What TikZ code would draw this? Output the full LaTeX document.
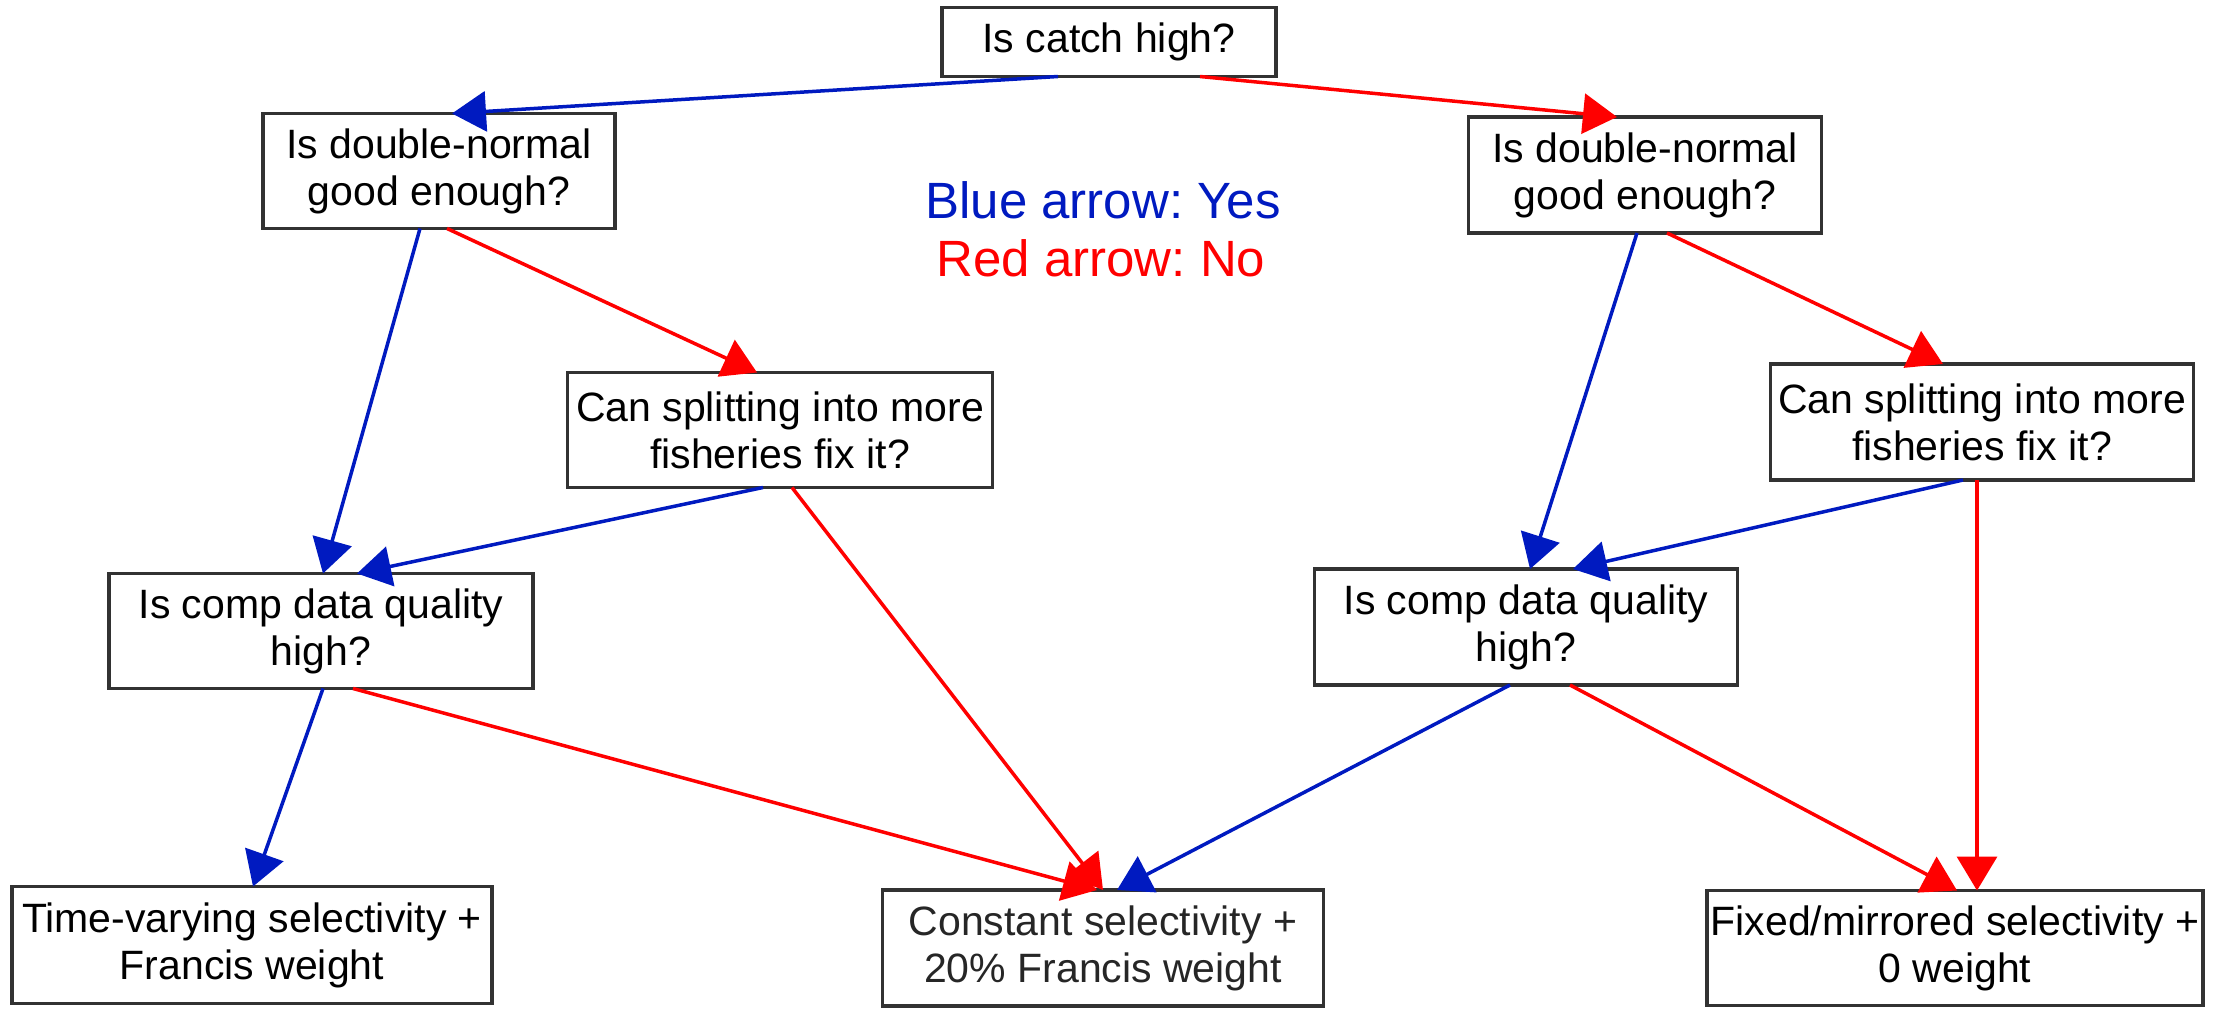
\documentclass[tikz,border=0pt]{standalone}
\usepackage{fontspec}
\setmainfont{Liberation Sans}
\usetikzlibrary{arrows.meta}
\definecolor{yesblue}{RGB}{0,26,192}
\definecolor{nored}{RGB}{255,0,0}
\definecolor{boxgray}{RGB}{50,50,50}
\tikzset{
  qbox/.style={draw=boxgray, line width=3.5pt, fill=white, align=center, inner sep=0pt, outer sep=0pt,
    font=\fontsize{41}{47}\selectfont\frenchspacing, text=black},
  yes/.style={draw=yesblue, line width=3.5pt, -{Triangle[length=34pt,width=40pt]}},
  no/.style={draw=nored, line width=3.5pt, -{Triangle[length=34pt,width=40pt]}},
  legend/.style={font=\fontsize{51}{58}\selectfont\frenchspacing, inner sep=0pt, anchor=base}
}
\begin{document}
\begin{tikzpicture}[x=1pt,y=-1pt]
\useasboundingbox (0,0) rectangle (2231,1009);
% nodes
\node[qbox, minimum width=334pt, minimum height=69pt] (catch) at (1109,42) {Is catch high?};
\node[qbox, minimum width=352pt, minimum height=115pt] (dnL) at (439,171) {Is double-normal\\good enough?};
\node[qbox, minimum width=353pt, minimum height=116pt] (dnR) at (1645,175) {Is double-normal\\good enough?};
\node[qbox, minimum width=425pt, minimum height=115pt] (spL) at (780,430) {Can splitting into more\\fisheries fix it?};
\node[qbox, minimum width=423pt, minimum height=116pt] (spR) at (1982,422) {Can splitting into more\\fisheries fix it?};
\node[qbox, minimum width=424pt, minimum height=115pt] (cqL) at (321,631) {Is comp data quality\\high?};
\node[qbox, minimum width=423pt, minimum height=116pt] (cqR) at (1526,627) {Is comp data quality\\high?};
\node[qbox, minimum width=480pt, minimum height=117pt] (tv) at (252,945) {Time-varying selectivity +\\Francis weight};
\node[qbox, minimum width=441pt, minimum height=116pt, text=black!85] (cst) at (1103,948) {Constant selectivity +\\20\% Francis weight};
\node[qbox, minimum width=496pt, minimum height=115pt] (fix) at (1955,948) {Fixed/mirrored selectivity +\\0 weight};
% legend
\node[legend, text=yesblue] (legY) at (1103,218) {Blue arrow: Yes};
\node[legend, text=nored] (legN) at (1101,276) {Red arrow: No};
% connectors
\draw[yes] ([xshift=-51pt]catch.south) -- ([xshift=13pt]dnL.north);
\draw[no]  ([xshift=91pt]catch.south) -- ([xshift=-28pt]dnR.north);
\draw[yes] ([xshift=-19pt]dnL.south) -- ([xshift=2pt]cqL.north);
\draw[no]  ([xshift=8pt]dnL.south) -- ([xshift=-23pt]spL.north);
\draw[yes] ([xshift=-17pt]spL.south) -- ([xshift=36pt]cqL.north);
\draw[no]  ([xshift=12pt]spL.south) -- ([xshift=0pt]cst.north);
\draw[yes] ([xshift=2pt]cqL.south) -- ([xshift=1pt]tv.north);
\draw[no]  ([xshift=32pt]cqL.south) -- ([xshift=-6pt]cst.north);
\draw[yes] ([xshift=-8pt]dnR.south) -- ([xshift=4pt]cqR.north);
\draw[no]  ([xshift=22pt]dnR.south) -- ([xshift=-39pt]spR.north);
\draw[yes] ([xshift=-19pt]spR.south) -- ([xshift=47pt]cqR.north);
\draw[no]  ([xshift=-5pt]spR.south) -- ([xshift=22pt]fix.north);
\draw[yes] ([xshift=-16pt]cqR.south) -- ([xshift=14pt]cst.north);
\draw[no]  ([xshift=44pt]cqR.south) -- ([xshift=2pt]fix.north);
\end{tikzpicture}
\end{document}
